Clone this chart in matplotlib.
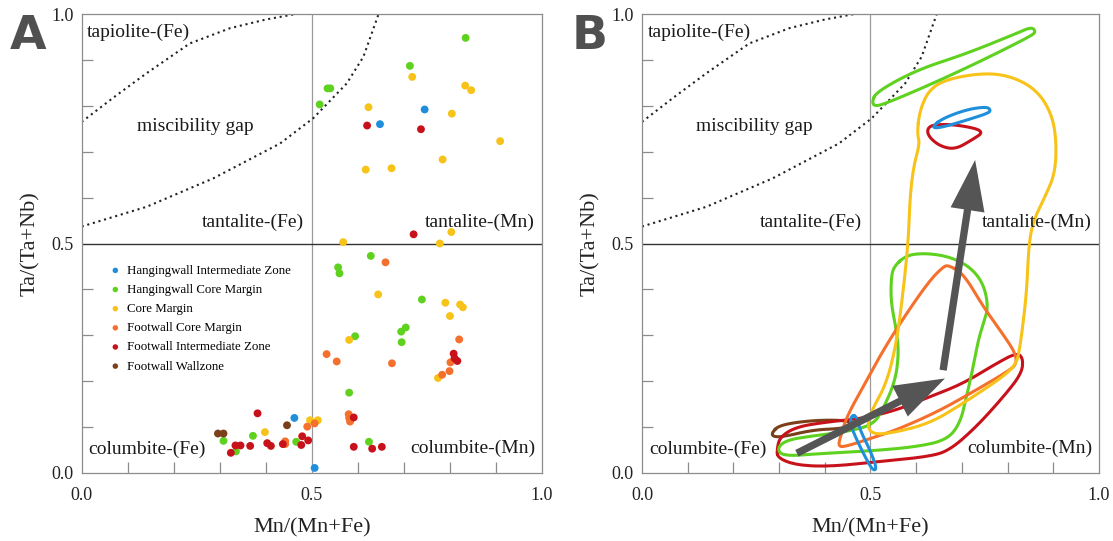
import numpy as np
import matplotlib
matplotlib.use("Agg")
import matplotlib.pyplot as plt
from matplotlib.patches import FancyArrow

plt.rcParams['font.family'] = ['Liberation Serif', 'DejaVu Serif']

# ---------------- data: panel A scatter ----------------
series_names = ["Hangingwall Intermediate Zone", "Hangingwall Core Margin", "Core Margin",
                "Footwall Core Margin", "Footwall Intermediate Zone", "Footwall Wallzone"]
series_colors = ["#1f8fdb", "#5fd11f", "#f7c318", "#f5702c", "#c8121b", "#7b4019"]

hiz_x = [0.745, 0.648, 0.462, 0.506]
hiz_y = [0.792, 0.760, 0.120, 0.011]

hcm_x = [0.834, 0.713, 0.534, 0.540, 0.517, 0.628, 0.557, 0.560, 0.739, 0.704, 0.694, 0.695,
         0.594, 0.581, 0.372, 0.308, 0.466, 0.624, 0.335]
hcm_y = [0.948, 0.887, 0.838, 0.838, 0.803, 0.473, 0.448, 0.435, 0.378, 0.317, 0.308, 0.285,
         0.298, 0.175, 0.081, 0.070, 0.068, 0.068, 0.047]

cm_x = [0.718, 0.623, 0.833, 0.846, 0.804, 0.909, 0.784, 0.617, 0.673, 0.803, 0.568, 0.778,
        0.644, 0.790, 0.822, 0.828, 0.800, 0.581, 0.774, 0.496, 0.513, 0.398]
cm_y = [0.863, 0.797, 0.844, 0.834, 0.783, 0.723, 0.683, 0.661, 0.664, 0.525, 0.503, 0.500,
        0.389, 0.371, 0.367, 0.361, 0.342, 0.290, 0.207, 0.115, 0.115, 0.089]

fcm_x = [0.660, 0.820, 0.532, 0.554, 0.674, 0.801, 0.799, 0.783, 0.506, 0.580, 0.581, 0.583,
         0.490, 0.442, 0.442]
fcm_y = [0.459, 0.291, 0.259, 0.243, 0.239, 0.241, 0.222, 0.214, 0.108, 0.128, 0.120, 0.112,
         0.101, 0.069, 0.063]

fiz_x = [0.620, 0.737, 0.721, 0.808, 0.810, 0.816, 0.382, 0.591, 0.479, 0.492, 0.437, 0.477,
         0.334, 0.345, 0.366, 0.403, 0.411, 0.324, 0.591, 0.631, 0.652]
fiz_y = [0.757, 0.749, 0.520, 0.260, 0.250, 0.244, 0.130, 0.121, 0.080, 0.071, 0.063, 0.061,
         0.060, 0.060, 0.059, 0.065, 0.059, 0.044, 0.057, 0.053, 0.057]

fwz_x = [0.446, 0.296, 0.308]
fwz_y = [0.104, 0.086, 0.086]

series_x = [hiz_x, hcm_x, cm_x, fcm_x, fiz_x, fwz_x]
series_y = [hiz_y, hcm_y, cm_y, fcm_y, fiz_y, fwz_y]

# ---------------- miscibility gap boundaries ----------------
gap1_x = [0.0, 0.069, 0.141, 0.235, 0.322, 0.40, 0.465]
gap1_y = [0.765, 0.818, 0.871, 0.936, 0.969, 0.988, 1.0]
gap2_x = [0.0, 0.141, 0.286, 0.431, 0.503, 0.576, 0.612, 0.645]
gap2_y = [0.537, 0.580, 0.642, 0.718, 0.773, 0.849, 0.907, 1.0]

# ---------------- panel B field outlines ----------------
green_up_x = [0.503, 0.514, 0.601, 0.711, 0.820, 0.853, 0.862, 0.849, 0.747, 0.637, 0.543, 0.510]
green_up_y = [0.809, 0.831, 0.878, 0.914, 0.958, 0.972, 0.961, 0.951, 0.900, 0.849, 0.809, 0.798]

blue_up_x = [0.637, 0.659, 0.711, 0.754, 0.763, 0.758, 0.711, 0.667, 0.641]
blue_up_y = [0.756, 0.773, 0.792, 0.798, 0.791, 0.784, 0.769, 0.756, 0.751]

red_up_x = [0.641, 0.696, 0.751, 0.721, 0.685, 0.652, 0.627, 0.624]
red_up_y = [0.760, 0.758, 0.745, 0.725, 0.705, 0.712, 0.733, 0.751]

yellow_x = [0.602, 0.608, 0.630, 0.674, 0.754, 0.812, 0.864, 0.896, 0.907, 0.904, 0.882, 0.860,
            0.847, 0.842, 0.834, 0.827, 0.820, 0.791, 0.703, 0.630, 0.543, 0.503, 0.493, 0.503,
            0.535, 0.557, 0.572, 0.583, 0.586, 0.594, 0.608]
yellow_y = [0.740, 0.791, 0.838, 0.860, 0.872, 0.863, 0.834, 0.784, 0.725, 0.653, 0.602, 0.558,
            0.508, 0.399, 0.326, 0.275, 0.239, 0.210, 0.152, 0.108, 0.086, 0.085, 0.105, 0.137,
            0.195, 0.283, 0.399, 0.508, 0.595, 0.667, 0.718]

green_lo_x = [0.550, 0.579, 0.623, 0.674, 0.718, 0.747, 0.758, 0.747, 0.736, 0.725, 0.710, 0.696,
              0.667, 0.601, 0.499, 0.400, 0.309, 0.295, 0.317, 0.375, 0.448, 0.506, 0.528, 0.554,
              0.562, 0.557, 0.545, 0.545]
green_lo_y = [0.449, 0.475, 0.479, 0.471, 0.449, 0.413, 0.362, 0.326, 0.290, 0.232, 0.166, 0.108,
              0.072, 0.057, 0.048, 0.043, 0.036, 0.054, 0.072, 0.081, 0.090, 0.105, 0.140, 0.200,
              0.260, 0.310, 0.370, 0.420]

orange_x = [0.670, 0.703, 0.747, 0.783, 0.816, 0.820, 0.805, 0.730, 0.650, 0.560, 0.500, 0.440,
            0.430, 0.433, 0.448, 0.484, 0.528, 0.579, 0.630, 0.659]
orange_y = [0.453, 0.435, 0.362, 0.312, 0.264, 0.239, 0.224, 0.180, 0.135, 0.095, 0.075, 0.056,
            0.060, 0.075, 0.123, 0.188, 0.268, 0.348, 0.420, 0.449]

red_lo_x = [0.295, 0.298, 0.339, 0.411, 0.521, 0.630, 0.674, 0.732, 0.791, 0.831, 0.834, 0.820,
            0.776, 0.703, 0.630, 0.557, 0.484, 0.411, 0.339, 0.302]
red_lo_y = [0.050, 0.032, 0.017, 0.014, 0.025, 0.036, 0.050, 0.101, 0.166, 0.217, 0.250, 0.262,
            0.239, 0.195, 0.166, 0.137, 0.119, 0.112, 0.101, 0.079]

brown_x = [0.284, 0.302, 0.375, 0.448, 0.459, 0.440, 0.375, 0.309, 0.287]
brown_y = [0.088, 0.105, 0.115, 0.115, 0.105, 0.097, 0.094, 0.079, 0.079]

blue_lo_x = [0.459, 0.470, 0.477, 0.499, 0.514, 0.506, 0.492, 0.470, 0.455]
blue_lo_y = [0.126, 0.123, 0.094, 0.050, 0.010, 0.005, 0.028, 0.072, 0.108]

outlines = [
    (brown_x, brown_y, "#7b4019"),
    (red_lo_x, red_lo_y, "#c8121b"),
    (green_lo_x, green_lo_y, "#5fd11f"),
    (orange_x, orange_y, "#f5702c"),
    (yellow_x, yellow_y, "#f7c318"),
    (blue_lo_x, blue_lo_y, "#1f8fdb"),
    (green_up_x, green_up_y, "#5fd11f"),
    (red_up_x, red_up_y, "#c8121b"),
    (blue_up_x, blue_up_y, "#1f8fdb"),
]

# trend arrows (start, end)
arrow1 = [(0.339, 0.043), (0.663, 0.206)]
arrow2 = [(0.659, 0.224), (0.729, 0.682)]

field_labels = [
    ("tapiolite-(Fe)", 0.012, 0.960, "left"),
    ("miscibility gap", 0.246, 0.756, "center"),
    ("tantalite-(Fe)", 0.482, 0.547, "right"),
    ("tantalite-(Mn)", 0.985, 0.547, "right"),
    ("columbite-(Fe)", 0.015, 0.052, "left"),
    ("columbite-(Mn)", 0.985, 0.054, "right"),
]


def rounded_closed(xs, ys, passes=3):
    """Corner-rounding of a closed outline (drawing style only)."""
    p = np.column_stack([xs, ys]).astype(float)
    for _ in range(passes):
        q = np.roll(p, -1, axis=0)
        p = np.column_stack([0.75 * p + 0.25 * q, 0.25 * p + 0.75 * q]).reshape(-1, 2)
    p = np.vstack([p, p[:1]])
    return p[:, 0], p[:, 1]


fig = plt.figure(figsize=(11.13, 5.41), dpi=100)
axA = fig.add_axes([0.0734, 0.1257, 0.4136, 0.8484])
axB = fig.add_axes([0.5768, 0.1257, 0.4106, 0.8484])

spine_col = "#8c8c8c"
for ax in (axA, axB):
    ax.set_xlim(0, 1)
    ax.set_ylim(0, 1)
    for s in ax.spines.values():
        s.set_color(spine_col)
        s.set_linewidth(0.9)
    ax.axvline(0.5, color="#9a9a9a", lw=0.9, zorder=1)
    ax.axhline(0.5, color="#333333", lw=1.0, zorder=1)
    ax.plot(gap1_x, gap1_y, linestyle=(0, (1, 1.8)), color="#222222", lw=1.5, zorder=2)
    ax.plot(gap2_x, gap2_y, linestyle=(0, (1, 1.8)), color="#222222", lw=1.5, zorder=2)
    ax.set_xticks([0.0, 0.5, 1.0])
    ax.set_yticks([0.0, 0.5, 1.0])
    ax.set_xticks(np.arange(0.1, 1.0, 0.1), minor=True)
    ax.set_yticks(np.arange(0.1, 1.0, 0.1), minor=True)
    ax.tick_params(which="both", direction="in", length=8, color=spine_col, width=0.9,
                   labelsize=13, pad=8, labelcolor="#222222")
    ax.tick_params(axis="x", which="major", length=0, pad=10)
    ax.tick_params(axis="y", which="major", length=0, pad=6)
    ax.set_xlabel("Mn/(Mn+Fe)", fontsize=16, labelpad=10, color="#222222")
    ax.set_ylabel("Ta/(Ta+Nb)", fontsize=16, labelpad=8, color="#222222")
    for txt, x, y, ha in field_labels:
        ax.text(x, y, txt, ha=ha, va="center", fontsize=14, color="#1a1a1a", zorder=5)

# panel A scatter
for xs, ys, name, col in zip(series_x, series_y, series_names, series_colors):
    axA.scatter(xs, ys, s=32, color=col, edgecolors="none", label=name, zorder=4)
leg = axA.legend(loc="upper left", bbox_to_anchor=(0.045, 0.465), frameon=False,
                 fontsize=9.3, handletextpad=0.3, labelspacing=0.55, markerscale=0.7,
                 borderaxespad=0, handlelength=1.2)

# panel B outlines
for xs, ys, col in outlines:
    sx, sy = rounded_closed(xs, ys)
    axB.plot(sx, sy, color=col, lw=2.2, zorder=3, solid_joinstyle="round")

for (x0, y0), (x1, y1) in (arrow1, arrow2):
    axB.add_patch(FancyArrow(x0, y0, x1 - x0, y1 - y0, width=0.016, head_width=0.075,
                             head_length=0.11, length_includes_head=True,
                             color="#555555", ec="none", zorder=6))

fig.text(0.009, 0.975, "A", fontsize=34, fontweight="bold", color="#505050",
         family="DejaVu Sans", va="top", ha="left")
fig.text(0.514, 0.975, "B", fontsize=34, fontweight="bold", color="#505050",
         family="DejaVu Sans", va="top", ha="left")

fig.savefig("out.png", dpi=100)
